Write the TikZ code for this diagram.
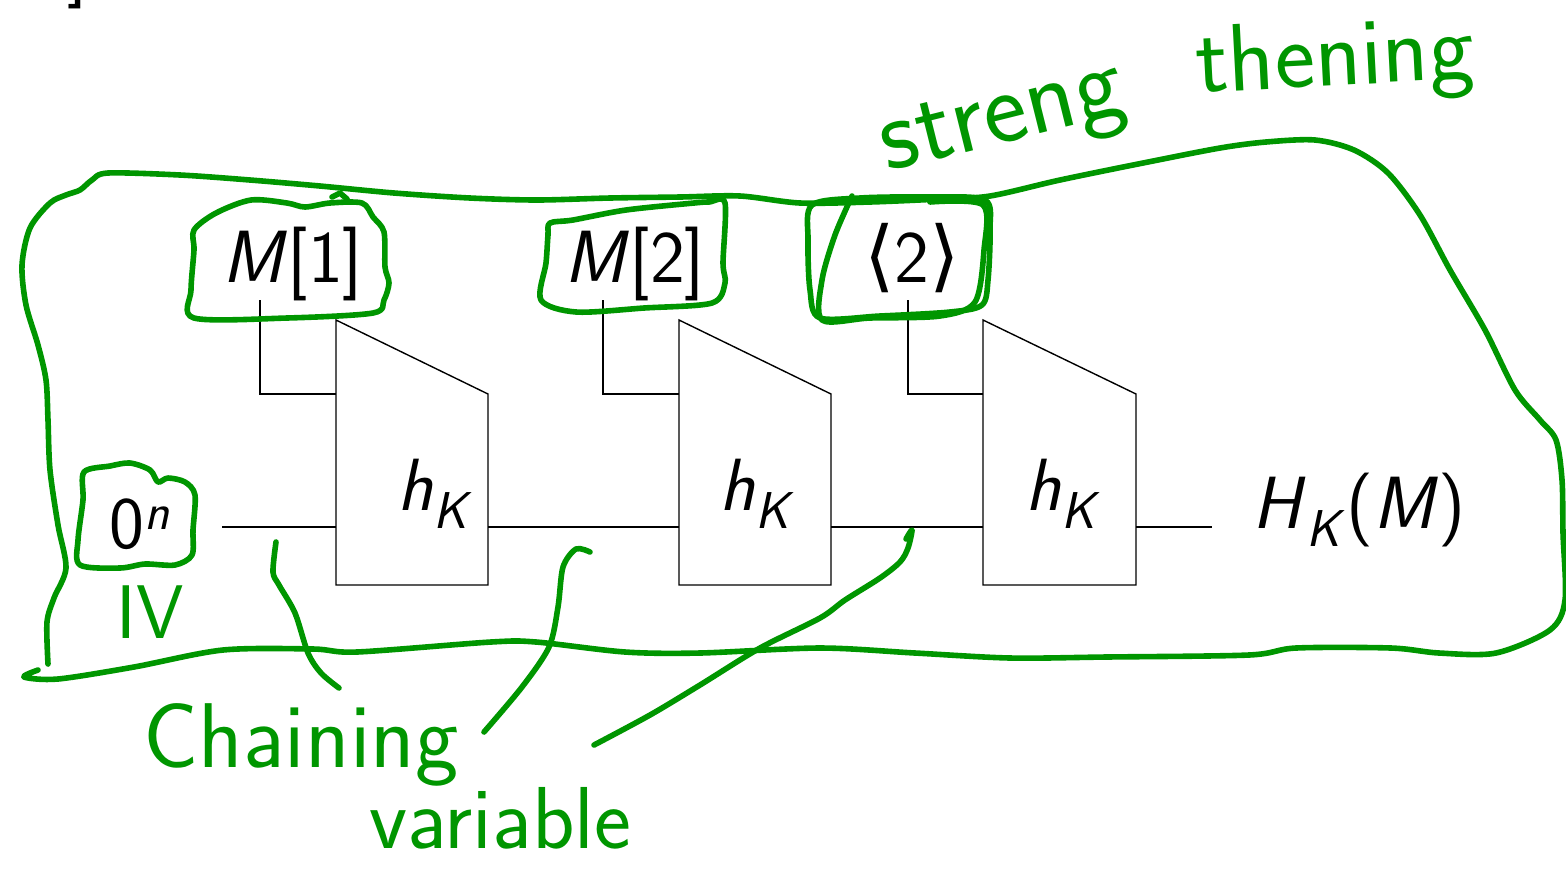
\documentclass[tikz,border=0pt]{standalone}
\usepackage{fontspec}
\usepackage{tikz}
\newfontfamily\symfont{DejaVu Sans}
\definecolor{handgreen}{RGB}{0,150,0}

\begin{document}
\begin{tikzpicture}[x=0.5pt,y=-0.5pt,
    wire/.style={line width=0.7pt},
    lbl/.style={font=\sffamily\fontsize{37}{42}\selectfont, inner sep=0pt, anchor=base},
    hand/.style={draw=handgreen, line width=2.8pt, line cap=round, line join=round},
    scrawl/.style={text=handgreen, inner sep=0pt, font=\sffamily\fontsize{#1}{#1}\selectfont}]

    \useasboundingbox (0,0) rectangle (1566,869);
    \clip (0,0) rectangle (1566,869);

    %leftover from the slide above
    \node[lbl] (rest) at (78,-10) {]};

    %inputs and output
    \node[lbl] (m1) at (293,282) {\textit{M}[1]};
    \node[lbl] (m2) at (635,282) {\textit{M}[2]};
    \node[lbl] (len) at (912,282) {{\symfont\fontsize{39}{42}\selectfont ⟨}2{\symfont\fontsize{39}{42}\selectfont ⟩}};
    \node[lbl] (iv) at (140,548) {0\textsuperscript{\textit{n}}};
    \node[lbl] (out) at (1359,528) {\textit{H}\textsubscript{\textit{K}}(\textit{M})};

    %compression boxes
    \draw[wire] (336,320) -- (488,394) -- (488,585) -- (336,585) -- cycle;
    \draw[wire] (679,320) -- (831,394) -- (831,585) -- (679,585) -- cycle;
    \draw[wire] (983,320) -- (1136,394) -- (1136,585) -- (983,585) -- cycle;
    \node[lbl] (h1) at (435,510) {\textit{h}\textsubscript{\textit{K}}};
    \node[lbl] (h2) at (757,510) {\textit{h}\textsubscript{\textit{K}}};
    \node[lbl] (h3) at (1063,510) {\textit{h}\textsubscript{\textit{K}}};

    \coordinate (b1m) at (336,394);
    \coordinate (b2m) at (679,394);
    \coordinate (b3m) at (983,394);
    \coordinate (b1in) at (336,527);
    \coordinate (b1out) at (488,527);
    \coordinate (b2in) at (679,527);
    \coordinate (b2out) at (831,527);
    \coordinate (b3in) at (983,527);
    \coordinate (b3out) at (1136,527);
    \coordinate (ivr) at (222,527);
    \coordinate (outl) at (1212,527);
    \coordinate (m1d) at (260,300);
    \coordinate (m2d) at (603,300);
    \coordinate (lend) at (908,300);

    %wires
    \draw[wire] (m1d) |- (b1m);
    \draw[wire] (m2d) |- (b2m);
    \draw[wire] (lend) |- (b3m);
    \draw[wire] (ivr) -- (b1in);
    \draw[wire] (b1out) -- (b2in);
    \draw[wire] (b2out) -- (b3in);
    \draw[wire] (b3out) -- (outl);

    %pen: loops round the inputs
    \draw[hand] plot[smooth cycle] coordinates {(84,472) (110,466) (130,463) (150,470) (158,482) (168,478) (185,482) (195,495) (193,530) (192,555) (175,565) (145,564) (120,568) (80,565) (78,540) (83,500)};
    \draw[hand] plot[smooth cycle] coordinates {(194,230) (216,213) (251,200) (287,203) (305,207) (330,203) (362,203) (373,217) (384,232) (385,267) (389,283) (384,300) (373,313) (287,318) (194,318) (191,290) (194,250)};
    \draw[hand] (332,197) -- (340,193) -- (347,199);
    \draw[hand] plot[smooth cycle] coordinates {(550,223) (573,220) (626,210) (694,203) (709,202) (725,203) (723,263) (725,283) (712,303) (644,308) (576,312) (541,300) (546,263) (548,235)};
    \draw[hand] plot[smooth cycle] coordinates {(812,205) (860,198) (930,197) (985,200) (990,230) (988,280) (982,305) (950,312) (880,316) (820,318) (810,290) (808,240)};
    \draw[hand] plot[smooth] coordinates {(852,196) (835,235) (822,280) (822,320) (870,318) (940,316) (975,302) (984,250) (983,205) (930,202)};

    %pen: everything that gets hashed
    \draw[hand] plot[smooth, tension=0.5] coordinates {(48,664) (47,622) (54,598) (66,568) (58,525) (50,470) (48,420) (46,380) (38,345) (26,305) (22,265) (30,228) (50,203) (66,195) (80,190) (92,180) (108,173) (180,175) (250,180) (320,186) (394,193) (470,198) (537,200) (610,198) (680,197) (740,196) (800,203) (870,202) (940,199) (990,196) (1060,180) (1143,163) (1220,148) (1266,142) (1315,140) (1354,150) (1388,173) (1420,215) (1450,270) (1485,330) (1515,390) (1540,420) (1556,440) (1562,480) (1563,533) (1565,600) (1550,630) (1496,653) (1439,653) (1391,648) (1296,648) (1249,655) (1106,657) (1010,658) (915,653) (820,648) (700,653) (625,652) (536,642) (491,642) (357,652) (313,649) (223,650) (134,667) (58,679) (24,677) (38,670)};

    %pen: pointers
    \draw[hand] plot[smooth] coordinates {(276,542) (273,572) (279,585) (295,613) (308,653) (321,673) (339,688)};
    \draw[hand] plot[smooth] coordinates {(590,552) (576,549) (563,567) (558,607) (549,647) (522,687) (484,732)};
    \draw[hand] plot[smooth] coordinates {(906,539) (912,530) (908,548) (900,562) (880,578) (845,600) (820,618) (760,648) (700,685) (650,715) (594,745)};

    %pen: words
    \node[scrawl=52, rotate=14] (streng) at (1004,124) {streng};
    \node[scrawl=48, rotate=3] (thening) at (1335,62) {thening};
    \node[scrawl=38] (ivword) at (150,612) {IV};
    \node[scrawl=46] (chaining) at (301,745) {Chaining};
    \node[scrawl=44] (variable) at (500,818) {variable};

\end{tikzpicture}
\end{document}
